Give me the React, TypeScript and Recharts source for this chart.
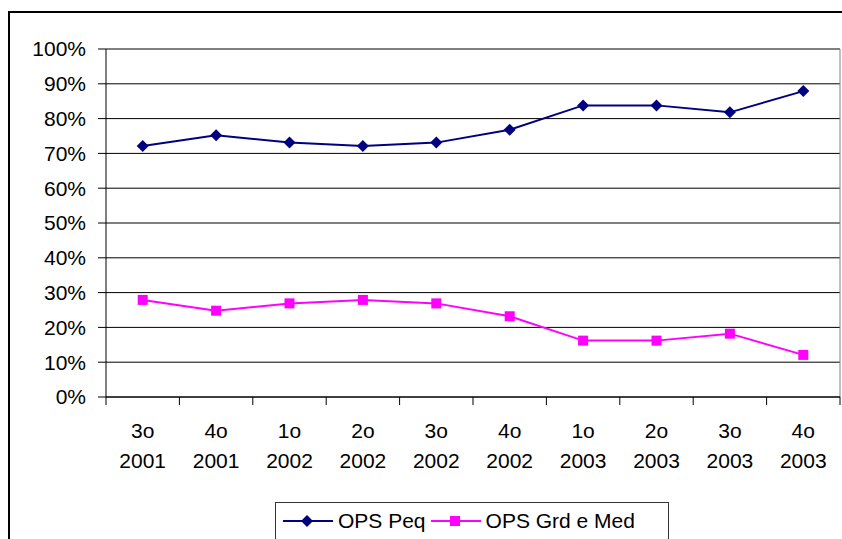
import { LineChart, Line, XAxis, YAxis, CartesianGrid, ReferenceLine } from "recharts";

// Quarter / year labels shown under each category
const quarters = ["3o", "4o", "1o", "2o", "3o", "4o", "1o", "2o", "3o", "4o"];
const years = ["2001", "2001", "2002", "2002", "2002", "2002", "2003", "2003", "2003", "2003"];

// Shares (fraction of total)
const opsPeq = [0.721, 0.752, 0.731, 0.721, 0.731, 0.768, 0.838, 0.838, 0.818, 0.879];
const opsGrdMed = [0.279, 0.248, 0.269, 0.279, 0.269, 0.232, 0.162, 0.162, 0.182, 0.121];

const yTicks = [0, 0.1, 0.2, 0.3, 0.4, 0.5, 0.6, 0.7, 0.8, 0.9, 1];

const PEQ_COLOR = "#000080";
const GRD_COLOR = "#FF00FF";
const FONT = "'Liberation Sans', Arial, sans-serif";

const data = quarters.map((q, i) => ({
  x: i + 0.5,
  peq: opsPeq[i],
  grd: opsGrdMed[i],
}));

// category boundaries get the tick marks, centers get the labels
const boundaryTicks = [...quarters.map((_, i) => i), quarters.length];
const centerTicks = quarters.map((_, i) => i + 0.5);

function Diamond(props: any) {
  const { cx, cy, index } = props;
  if (cx == null || cy == null) return <g key={`d-${index}`} />;
  const r = 6;
  return (
    <polygon
      key={`d-${index}`}
      points={`${cx},${cy - r} ${cx + r},${cy} ${cx},${cy + r} ${cx - r},${cy}`}
      fill={PEQ_COLOR}
    />
  );
}

function Square(props: any) {
  const { cx, cy, index } = props;
  if (cx == null || cy == null) return <g key={`s-${index}`} />;
  const s = 10;
  return <rect key={`s-${index}`} x={cx - s / 2} y={cy - s / 2} width={s} height={s} fill={GRD_COLOR} />;
}

function QuarterTick(props: any) {
  const { x, y, payload } = props;
  const i = Math.floor(payload.value);
  return (
    <text x={x} y={y} textAnchor="middle" fontSize={21} fill="#000" fontFamily={FONT}>
      <tspan x={x} dy={33}>{quarters[i]}</tspan>
      <tspan x={x} dy={30}>{years[i]}</tspan>
    </text>
  );
}

const legendItems = [
  { name: "OPS Peq", color: PEQ_COLOR, shape: "diamond" },
  { name: "OPS Grd e Med", color: GRD_COLOR, shape: "square" },
];

function LegendBox() {
  return (
    <div
      style={{
        position: "absolute",
        left: 275,
        top: 502,
        width: 394,
        height: 60,
        border: "1px solid #333",
        background: "#fff",
        fontFamily: FONT,
        fontSize: 21,
        display: "flex",
        alignItems: "flex-start",
        paddingLeft: 7,
        boxSizing: "border-box",
      }}
    >
      {legendItems.map((item) => (
        <div key={item.name} style={{ display: "flex", alignItems: "center", marginRight: 5, height: 36 }}>
          <svg width={50} height={20} style={{ marginRight: 5 }}>
            <line x1={0} y1={10} x2={50} y2={10} stroke={item.color} strokeWidth={2} />
            {item.shape === "diamond" ? (
              <polygon points="24,4 30,10 24,16 18,10" fill={item.color} />
            ) : (
              <rect x={19} y={5} width={10} height={10} fill={item.color} />
            )}
          </svg>
          <span>{item.name}</span>
        </div>
      ))}
    </div>
  );
}

export default function App() {
  return (
    // pinned to the viewport so the frame can run off the right and bottom edges
    <div style={{ position: "fixed", left: 0, top: 0, width: 842, height: 539, overflow: "hidden", background: "#fff" }}>
      <div
        style={{
          position: "absolute",
          left: 8,
          top: 11,
          width: 900,
          height: 600,
          borderTop: "2px solid #000",
          borderLeft: "2px solid #000",
        }}
      />
      <div style={{ position: "absolute", left: 8, top: 8 }}>
        <LineChart
          width={834}
          height={531}
          data={data}
          margin={{ top: 41, right: 2, left: 0, bottom: 64 }}
          style={{ fontFamily: FONT }}
        >
          <CartesianGrid vertical={false} stroke="#000" xAxisId="b" />
          <XAxis
            xAxisId="b"
            type="number"
            dataKey="x"
            domain={[0, 10]}
            allowDataOverflow
            ticks={centerTicks}
            interval={0}
            height={70}
            tickSize={0}
            tickMargin={0}
            axisLine={false}
            tickLine={false}
            tick={QuarterTick}
          />
          <XAxis
            xAxisId="a"
            type="number"
            dataKey="x"
            domain={[0, 10]}
            allowDataOverflow
            ticks={boundaryTicks}
            interval={0}
            height={8}
            tickSize={8}
            tick={() => <g />}
            axisLine={{ stroke: "#000" }}
            tickLine={{ stroke: "#000" }}
          />
          <YAxis
            domain={[0, 1]}
            ticks={yTicks}
            interval={0}
            width={98}
            tickSize={8}
            tickMargin={12}
            tickFormatter={(v: number) => `${Math.round(v * 100)}%`}
            tick={{ fill: "#000", fontSize: 21, fontFamily: FONT }}
            axisLine={{ stroke: "#000" }}
            tickLine={{ stroke: "#000" }}
          />
          {/* plot-area frame: grey top and right edges */}
          <ReferenceLine
            xAxisId="a"
            segment={[{ x: 0, y: 1 }, { x: 10, y: 1 }]}
            stroke="#808080"
          />
          <ReferenceLine
            xAxisId="a"
            segment={[{ x: 10, y: 0 }, { x: 10, y: 1 }]}
            stroke="#808080"
          />
          <Line
            xAxisId="a"
            dataKey="peq"
            name="OPS Peq"
            stroke={PEQ_COLOR}
            strokeWidth={2}
            dot={Diamond}
            activeDot={false}
            isAnimationActive={false}
          />
          <Line
            xAxisId="a"
            dataKey="grd"
            name="OPS Grd e Med"
            stroke={GRD_COLOR}
            strokeWidth={2}
            dot={Square}
            activeDot={false}
            isAnimationActive={false}
          />
        </LineChart>
      </div>
      <LegendBox />
    </div>
  );
}
